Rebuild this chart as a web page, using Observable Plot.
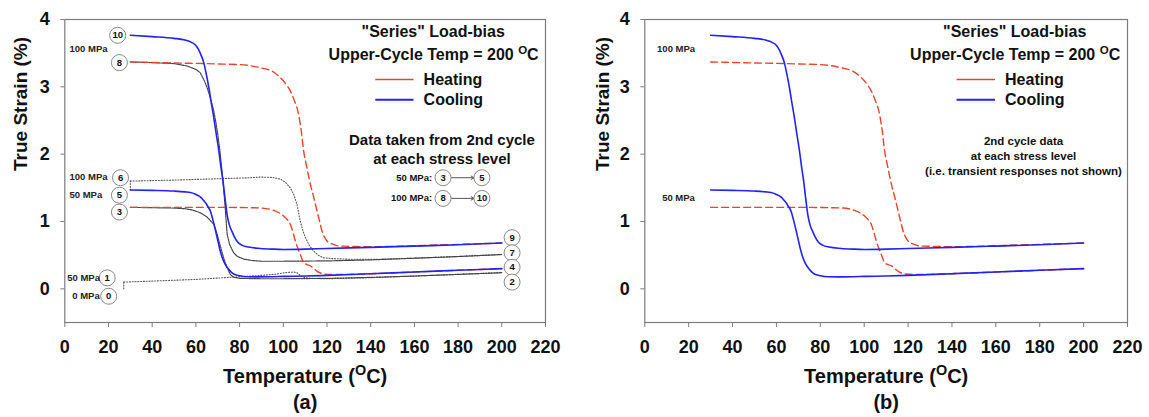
<!DOCTYPE html>
<html><head><meta charset="utf-8">
<script src="https://cdn.jsdelivr.net/npm/d3@7"></script>
<script src="https://cdn.jsdelivr.net/npm/@observablehq/plot@0.6"></script>
<style>
body{margin:0;background:#fff;}
#wrap{display:flex;width:1149px;height:417px;overflow:hidden;}
#wrap svg{flex:none;}
</style></head><body><div id="wrap"></div>
<script>
// ---- axis ticks ----
const xTicks = [0, 20, 40, 60, 80, 100, 120, 140, 160, 180, 200, 220];
const yTicks = [0, 1, 2, 3, 4];

// ---- 2nd-cycle curves (both panels) ----
const heat50T = [30, 50, 70, 85, 90, 95.6, 98, 100.2, 102, 103.2, 104.5, 105.5, 106.7, 107.8, 109.3, 110.8, 112.4, 114, 115.5, 117, 118.5, 122, 130, 140, 160, 180, 200];
const heat50S = [1.21, 1.21, 1.21, 1.205, 1.2, 1.165, 1.13, 1.08, 1.02, 0.96, 0.83, 0.71, 0.6, 0.51, 0.39, 0.36, 0.34, 0.3, 0.26, 0.235, 0.22, 0.215, 0.215, 0.225, 0.25, 0.275, 0.3];
const heat100T = [30, 50, 70, 80, 90, 95, 98.7, 101, 103.2, 105, 107, 108.2, 109.3, 110.8, 112.4, 114, 115.5, 116.7, 117.7, 119, 120, 122, 126, 132, 140, 150, 170, 200];
const heat100S = [3.37, 3.355, 3.34, 3.33, 3.28, 3.23, 3.135, 3.05, 2.94, 2.8, 2.59, 2.35, 2.05, 1.8, 1.55, 1.35, 1.15, 0.99, 0.86, 0.76, 0.71, 0.67, 0.635, 0.63, 0.625, 0.63, 0.65, 0.68];
const cool50T = [30, 40, 50, 55, 57.5, 59.5, 61.3, 62.5, 63.6, 64.6, 65.5, 66.7, 67.8, 69, 70, 71, 72, 73, 74.3, 75.5, 77.3, 80, 83.4, 88, 95, 100, 110, 120, 140, 160, 180, 200];
const cool50S = [1.467, 1.462, 1.452, 1.44, 1.43, 1.41, 1.38, 1.35, 1.31, 1.27, 1.22, 1.15, 1.02, 0.86, 0.72, 0.58, 0.47, 0.39, 0.32, 0.27, 0.22, 0.195, 0.18, 0.178, 0.18, 0.185, 0.19, 0.2, 0.225, 0.25, 0.275, 0.3];
const cool100T = [30, 40, 50, 55, 58, 60, 61.3, 62.5, 63.6, 64.8, 65.9, 67, 68.2, 69.3, 70.5, 71.5, 72.4, 73.3, 74.3, 75.3, 76.4, 77.5, 79, 81, 84, 89.5, 95, 100, 110, 120, 140, 160, 180, 200];
const cool100S = [3.765, 3.745, 3.72, 3.695, 3.66, 3.615, 3.55, 3.46, 3.36, 3.18, 2.99, 2.77, 2.54, 2.3, 2.05, 1.8, 1.6, 1.35, 1.1, 0.95, 0.86, 0.78, 0.7, 0.65, 0.62, 0.6, 0.59, 0.585, 0.59, 0.6, 0.615, 0.635, 0.655, 0.68];

// ---- other (transient) cycles, panel (a) only ----
const c01T = [27, 27];
const c01S = [0.0, 0.1];
const c12T = [27, 40, 60, 80, 90, 97, 101, 104.8, 106.5, 108, 110, 113, 120, 140, 160, 180, 200];
const c12S = [0.1, 0.115, 0.14, 0.18, 0.2, 0.22, 0.24, 0.25, 0.235, 0.19, 0.165, 0.155, 0.15, 0.165, 0.19, 0.215, 0.24];
const c23T = [30, 40, 50, 55, 58.5, 62, 65, 67, 68.2, 69, 70, 71, 72, 72.7, 73.5, 74.5, 75.8, 77.5, 80.3, 90, 100, 120, 140, 160, 180, 200];
const c23S = [1.21, 1.205, 1.2, 1.19, 1.17, 1.13, 1.07, 1.0, 0.96, 0.89, 0.78, 0.66, 0.54, 0.46, 0.38, 0.3, 0.21, 0.17, 0.155, 0.15, 0.15, 0.155, 0.17, 0.19, 0.215, 0.24];
const c56T = [30, 30];
const c56S = [1.467, 1.6];
const c67T = [30, 50, 70, 85, 89.5, 95, 98.7, 101, 103.2, 104.8, 106.3, 107.8, 109, 110.1, 112, 113.9, 116, 118.5, 122, 130, 144, 160, 180, 200];
const c67S = [1.6, 1.615, 1.635, 1.65, 1.66, 1.655, 1.63, 1.58, 1.5, 1.4, 1.25, 1.0, 0.86, 0.76, 0.64, 0.56, 0.5, 0.46, 0.45, 0.44, 0.44, 0.455, 0.48, 0.51];
const c78T = [30, 40, 50, 56, 60, 62, 64, 65.1, 66, 67, 68.2, 69, 70, 71, 72.4, 73.3, 74.3, 75.5, 77.3, 79, 82, 86, 90, 100, 120, 140, 160, 180, 200];
const c78S = [3.37, 3.36, 3.345, 3.31, 3.26, 3.21, 3.08, 2.99, 2.9, 2.79, 2.64, 2.5, 2.3, 2.05, 1.6, 1.25, 0.81, 0.65, 0.535, 0.48, 0.44, 0.42, 0.41, 0.41, 0.415, 0.43, 0.455, 0.48, 0.51];

// ---- annotations (data units) ----
const markerIds = ["10", "8", "6", "5", "3", "1", "0", "9", "7", "4", "2"];
const markerX = [24.2, 25, 25.5, 25, 25, 19.4, 20.1, 204.7, 204.7, 204.7, 204.7];
const markerY = [3.765, 3.36, 1.65, 1.39, 1.14, 0.163, -0.11, 0.76, 0.535, 0.32, 0.1];
const stressLabelsA = ["100 MPa", "100 MPa", "50 MPa", "50 MPa", "0 MPa"];
const stressLabelAX = [2.15, 2.15, 2.15, 1.1, 3.4];
const stressLabelAY = [3.56, 1.66, 1.39, 0.163, -0.11];
const stressLabelsB = ["100 MPa", "50 MPa"];
const stressLabelBX = [5.6, 7.9];
const stressLabelBY = [3.56, 1.35];
const keyStress = ["50 MPa:", "100 MPa:"];
const keyFrom = ["3", "8"];
const keyTo = ["5", "10"];
const keyY = [1.65, 1.343];
const legendNames = ["Heating", "Cooling"];
const legendY = [3.11, 2.81];

const FONT = "'Liberation Sans', Arial, Helvetica, sans-serif";
const RED = "#e8432d", BLUE = "#2222f2", FRAME = "#7c7c7c";

const rows = (T, S) => T.map((t, i) => ({t, s: S[i]}));

function panel({width, ml, mr, letter, showTransient, stressLabels, stressX, stressY, noteText, noteY, noteSize, noteLH, titleDx}) {
  const marks = [];
  marks.push(Plot.frame({stroke: FRAME, strokeWidth: 1.2}));
  marks.push(Plot.axisX({ticks: xTicks, tickSize: 5, tickPadding: 13, fontSize: 18, fontWeight: "bold", stroke: FRAME, fill: "#111", label: null}));
  marks.push(Plot.axisY({ticks: yTicks, tickFormat: d3.format("d"), tickSize: 4, tickPadding: 11, fontSize: 18, fontWeight: "bold", stroke: FRAME, fill: "#111", label: null}));
  if (showTransient) {
    const light = {x: "t", y: "s", stroke: "#555", strokeWidth: 1.1, strokeDasharray: "1,1.8"};
    const dark = {x: "t", y: "s", stroke: "#444", strokeWidth: 1.2, strokeDasharray: "1.6,1"};
    marks.push(Plot.line(rows(c01T, c01S), light));
    marks.push(Plot.line(rows(c12T, c12S), light));
    marks.push(Plot.line(rows(c56T, c56S), light));
    marks.push(Plot.line(rows(c67T, c67S), light));
    marks.push(Plot.line(rows(c23T, c23S), dark));
    marks.push(Plot.line(rows(c78T, c78S), dark));
  }
  const heat = {x: "t", y: "s", stroke: RED, strokeWidth: 1.4, strokeDasharray: "7,4", curve: "monotone-x"};
  const cool = {x: "t", y: "s", stroke: BLUE, strokeWidth: 1.6, curve: "monotone-x"};
  marks.push(Plot.line(rows(heat50T, heat50S), heat));
  marks.push(Plot.line(rows(heat100T, heat100S), heat));
  marks.push(Plot.line(rows(cool50T, cool50S), cool));
  marks.push(Plot.line(rows(cool100T, cool100S), cool));

  // legend block
  marks.push(Plot.text(["\"Series\" Load-bias"], {x: 168.6, y: 3.81, text: d => d, fontSize: 16, fontWeight: "bold", fill: "#111"}));
  marks.push(Plot.text(["Upper-Cycle Temp = 200 ^OC"], {x: 168.8, y: 3.47, text: d => d, fontSize: 16, fontWeight: "bold", fill: "#111"}));
  marks.push(Plot.link(legendNames, {x1: 142.1, x2: 159.6, y1: (d, i) => legendY[i], y2: (d, i) => legendY[i],
    stroke: (d, i) => i === 0 ? RED : BLUE, strokeWidth: (d, i) => i === 0 ? 1.4 : 2,
    strokeDasharray: (d, i) => i === 0 ? "7,4" : null}));
  marks.push(Plot.text(legendNames, {x: 164.2, y: (d, i) => legendY[i], text: d => d, textAnchor: "start", fontSize: 16, fontWeight: "bold", fill: "#111"}));
  marks.push(Plot.text([noteText], {x: 172.6, y: noteY, text: d => d, fontSize: noteSize, lineHeight: noteLH, fontWeight: "bold", fill: "#111"}));

  if (showTransient) {
    marks.push(Plot.text(keyStress, {x: 168.1, y: (d, i) => keyY[i], text: d => d, textAnchor: "end", fontSize: 9.5, fontWeight: "bold", fill: "#111"}));
    marks.push(Plot.arrow(keyStress, {x1: 176.4, x2: 187.3, y1: (d, i) => keyY[i], y2: (d, i) => keyY[i], stroke: "#555", strokeWidth: 1, headLength: 5}));
    const keyCircles = keyFrom.map((id, i) => ({id, x: 173.1, y: keyY[i]})).concat(keyTo.map((id, i) => ({id, x: 190.9, y: keyY[i]})));
    marks.push(Plot.dot(keyCircles, {x: "x", y: "y", r: 8, fill: "white", stroke: "#888", strokeWidth: 1}));
    marks.push(Plot.text(keyCircles, {x: "x", y: "y", text: "id", fontSize: 9.5, fontWeight: "bold", fill: "#111"}));
    const circ = markerIds.map((id, i) => ({id, x: markerX[i], y: markerY[i]}));
    marks.push(Plot.dot(circ, {x: "x", y: "y", r: 8, fill: "white", stroke: "#888", strokeWidth: 1}));
    marks.push(Plot.text(circ, {x: "x", y: "y", text: "id", fontSize: 9.5, fontWeight: "bold", fill: "#111"}));
  }
  marks.push(Plot.text(stressLabels, {x: (d, i) => stressX[i], y: (d, i) => stressY[i], text: d => d, textAnchor: "start", fontSize: 9.5, fontWeight: "bold", fill: "#222"}));

  // axis titles and panel letter
  marks.push(Plot.text(["Temperature (^OC)"], {frameAnchor: "bottom", dy: 60, text: d => d, fontSize: 20, fontWeight: "bold", fill: "#111"}));
  marks.push(Plot.text([letter], {frameAnchor: "bottom", dy: 86, text: d => d, fontSize: 20, fontWeight: "bold", fill: "#111"}));
  marks.push(Plot.text(["True Strain (%)"], {frameAnchor: "left", dx: titleDx, rotate: -90, text: d => d, fontSize: 19, fontWeight: "bold", fill: "#111"}));

  return Plot.plot({
    width, height: 417, marginLeft: ml, marginRight: mr, marginTop: 19, marginBottom: 95,
    x: {domain: [0, 220], label: null},
    y: {domain: [-0.5, 4], label: null},
    style: {fontFamily: FONT, background: "white", color: "#111", overflow: "visible"},
    marks
  });
}

function supify(svg) {
  const ns = "http://www.w3.org/2000/svg";
  svg.querySelectorAll("text").forEach(t => {
    if (t.children.length === 0 && t.textContent.includes("^O")) {
      const g = t.closest("[font-size]");
      const fs = g ? parseFloat(g.getAttribute("font-size")) : 16;
      const [a, b] = t.textContent.split("^O");
      t.textContent = "";
      const s1 = document.createElementNS(ns, "tspan"); s1.textContent = a; t.appendChild(s1);
      const s2 = document.createElementNS(ns, "tspan"); s2.textContent = "O";
      s2.setAttribute("font-size", fs * 0.72); s2.setAttribute("dy", -fs * 0.38); t.appendChild(s2);
      const s3 = document.createElementNS(ns, "tspan"); s3.textContent = b;
      s3.setAttribute("dy", fs * 0.38); t.appendChild(s3);
    }
  });
}

const wrap = document.getElementById("wrap");
const pa = panel({width: 574, ml: 64.3, mr: 29, letter: "(a)", showTransient: true,
  stressLabels: stressLabelsA, stressX: stressLabelAX, stressY: stressLabelAY,
  noteText: "Data taken from 2nd cycle\nat each stress level", noteY: 2.083, noteSize: 15, noteLH: 1.23, titleDx: -44});
const pb = panel({width: 575, ml: 70.3, mr: 22, letter: "(b)", showTransient: false,
  stressLabels: stressLabelsB, stressX: stressLabelBX, stressY: stressLabelBY,
  noteText: "2nd cycle data\nat each stress level\n(i.e. transient responses not shown)", noteY: 1.987, noteSize: 11.5, noteLH: 1.33, titleDx: -42});
wrap.appendChild(pa);
wrap.appendChild(pb);
supify(pa); supify(pb);
</script>
</body></html>
